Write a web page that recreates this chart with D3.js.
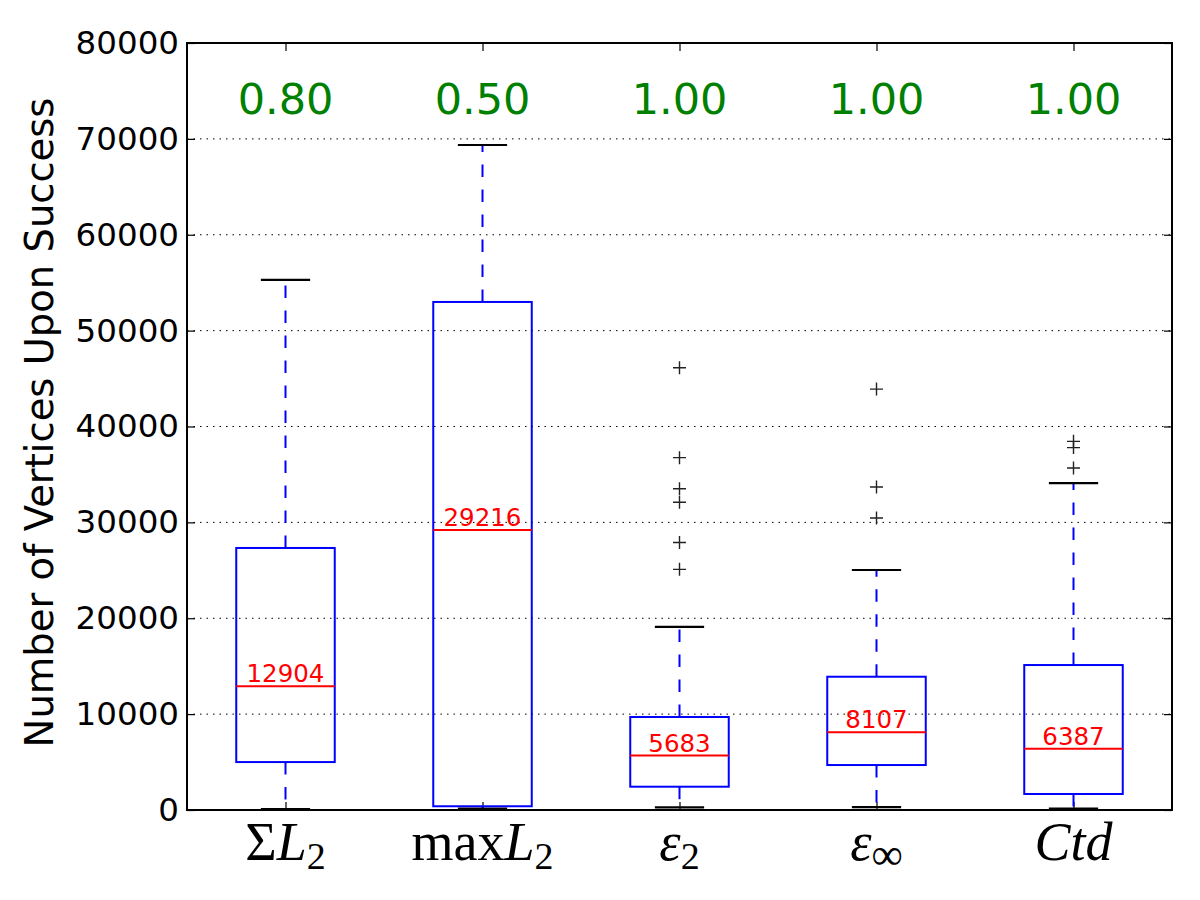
<!DOCTYPE html>
<html>
<head>
<meta charset="utf-8">
<script src="https://cdn.jsdelivr.net/npm/d3@7"></script>
<style>
  html, body { margin: 0; padding: 0; background: #fff; }
  svg { display: block; }
</style>
</head>
<body>
<svg id="chart" width="1200" height="900"></svg>
<script>
// ---- data ----
const categories = ["SumL2", "maxL2", "eps2", "epsInf", "Ctd"];
const successRates = [0.80, 0.50, 1.00, 1.00, 1.00];
const medians = [12904, 29216, 5683, 8107, 6387];
const q1Values = [5000, 390, 2430, 4690, 1670];
const q3Values = [27330, 52990, 9700, 13900, 15120];
const whiskerLow = [100, 150, 280, 310, 140];
const whiskerHigh = [55300, 69360, 19090, 25030, 34100];
const outliers = [
  [],
  [],
  [46130, 36750, 33500, 32100, 27900, 25100],
  [43900, 33690, 30460],
  [38450, 37800, 35670]
];
const yTicks = [0, 10000, 20000, 30000, 40000, 50000, 60000, 70000, 80000];
// tick label pieces: [text, style] ; style: "r" roman, "i" italic, "s" subscript
const xTickLabels = [
  [["Σ", "r"], ["L", "i"], ["2", "s"]],
  [["max", "r"], ["L", "i"], ["2", "s"]],
  [["ε", "i"], ["2", "s"]],
  [["ε", "i"], ["∞", "s"]],
  [["Ctd", "i"]]
];
const yLabel = "Number of Vertices Upon Success";

// ---- layout ----
const svg = d3.select("#chart");
const mLeft = 187, mRight = 1172, mTop = 43, mBottom = 810;

const x = d3.scaleLinear().domain([0.5, categories.length + 0.5]).range([mLeft, mRight]);
const y = d3.scaleLinear().domain([0, 80000]).range([mBottom, mTop]);
const boxHalf = 0.25, capHalf = 0.125;

const data = categories.map((c, i) => ({
  c, i, pos: i + 1,
  med: medians[i], q1: q1Values[i], q3: q3Values[i],
  lo: whiskerLow[i], hi: whiskerHigh[i], fl: outliers[i], rate: successRates[i]
}));

// grid lines
svg.append("g").selectAll("line").data(yTicks.filter(t => t > 0 && t < 80000)).join("line")
  .attr("x1", mLeft).attr("x2", mRight)
  .attr("y1", d => y(d)).attr("y2", d => y(d))
  .attr("stroke", "#000").attr("stroke-width", 1)
  .attr("stroke-dasharray", "1.5,5");

// axes (ticks inward)
const yAxisL = d3.axisLeft(y).tickValues(yTicks).tickSize(-8).tickPadding(8).tickFormat(d3.format("d"));
const gL = svg.append("g").attr("transform", `translate(${mLeft},0)`).call(yAxisL);
gL.select(".domain").remove();
gL.selectAll("text").attr("font-family", "DejaVu Sans").attr("font-size", 32.5).attr("fill", "#000");
gL.selectAll("line").attr("stroke", "#000").attr("stroke-width", 1.2);

const yAxisR = d3.axisRight(y).tickValues(yTicks).tickSize(-8).tickFormat("");
const gR = svg.append("g").attr("transform", `translate(${mRight},0)`).call(yAxisR);
gR.select(".domain").remove();
gR.selectAll("line").attr("stroke", "#000").attr("stroke-width", 1.2);

const xPos = data.map(d => d.pos);
const xAxisB = d3.axisBottom(x).tickValues(xPos).tickSize(-8).tickFormat("");
const gB = svg.append("g").attr("transform", `translate(0,${mBottom})`).call(xAxisB);
gB.select(".domain").remove();
gB.selectAll("line").attr("stroke", "#000").attr("stroke-width", 1.2);
const xAxisT = d3.axisTop(x).tickValues(xPos).tickSize(-8).tickFormat("");
const gT = svg.append("g").attr("transform", `translate(0,${mTop})`).call(xAxisT);
gT.select(".domain").remove();
gT.selectAll("line").attr("stroke", "#000").attr("stroke-width", 1.2);

// boxes
const g = svg.append("g");
const bx = g.selectAll("g.box").data(data).join("g").attr("class", "box");

// whiskers
bx.append("line").attr("x1", d => x(d.pos)).attr("x2", d => x(d.pos))
  .attr("y1", d => y(d.q3)).attr("y2", d => y(d.hi))
  .attr("stroke", "#0000ff").attr("stroke-width", 2).attr("stroke-dasharray", "12.5,12.5");
bx.append("line").attr("x1", d => x(d.pos)).attr("x2", d => x(d.pos))
  .attr("y1", d => y(d.q1)).attr("y2", d => y(d.lo))
  .attr("stroke", "#0000ff").attr("stroke-width", 2).attr("stroke-dasharray", "12.5,12.5");
// caps
bx.append("line").attr("x1", d => x(d.pos - capHalf)).attr("x2", d => x(d.pos + capHalf))
  .attr("y1", d => y(d.hi)).attr("y2", d => y(d.hi))
  .attr("stroke", "#000").attr("stroke-width", 2.2);
bx.append("line").attr("x1", d => x(d.pos - capHalf)).attr("x2", d => x(d.pos + capHalf))
  .attr("y1", d => y(d.lo)).attr("y2", d => y(d.lo))
  .attr("stroke", "#000").attr("stroke-width", 2.2);
// box
bx.append("rect").attr("x", d => x(d.pos - boxHalf)).attr("width", d => x(d.pos + boxHalf) - x(d.pos - boxHalf))
  .attr("y", d => y(d.q3)).attr("height", d => y(d.q1) - y(d.q3))
  .attr("fill", "none").attr("stroke", "#0000ff").attr("stroke-width", 2);
// median
bx.append("line").attr("x1", d => x(d.pos - boxHalf)).attr("x2", d => x(d.pos + boxHalf))
  .attr("y1", d => y(d.med)).attr("y2", d => y(d.med))
  .attr("stroke", "#ff0000").attr("stroke-width", 2);
// median labels
bx.append("text").attr("x", d => x(d.pos)).attr("y", d => y(d.med) - 4)
  .attr("text-anchor", "middle").attr("font-family", "DejaVu Sans").attr("font-size", 24.5)
  .attr("fill", "#ff0000").text(d => d.med);
// outliers
bx.each(function(d) {
  const gg = d3.select(this);
  d.fl.forEach(v => {
    const cx = x(d.pos), cy = y(v);
    gg.append("path").attr("d", `M${cx - 6.5},${cy}H${cx + 6.5}M${cx},${cy - 6.5}V${cy + 6.5}`)
      .attr("stroke", "#222").attr("stroke-width", 1.4).attr("fill", "none");
  });
});
// success rate labels
bx.append("text").attr("x", d => x(d.pos)).attr("y", 114)
  .attr("text-anchor", "middle").attr("font-family", "DejaVu Sans").attr("font-size", 43)
  .attr("fill", "#008000").text(d => d.rate.toFixed(2));

// frame
svg.append("rect").attr("x", mLeft).attr("y", mTop).attr("width", mRight - mLeft).attr("height", mBottom - mTop)
  .attr("fill", "none").attr("stroke", "#000").attr("stroke-width", 2);

// x tick labels
xTickLabels.forEach((parts, i) => {
  const t = svg.append("text").attr("x", x(i + 1)).attr("y", 860)
    .attr("text-anchor", "middle").attr("font-family", "Liberation Serif, DejaVu Serif, serif")
    .attr("font-size", 54).attr("fill", "#000");
  parts.forEach(([txt, st]) => {
    const ts = t.append("tspan").text(txt);
    if (st === "i") ts.attr("font-style", "italic");
    if (st === "s") ts.attr("font-size", txt === "∞" ? 44 : 38).attr("dy", 9);
  });
});

// y label
svg.append("text").attr("transform", `translate(53,${(mTop + mBottom) / 2 - 4}) rotate(-90)`)
  .attr("text-anchor", "middle").attr("font-family", "DejaVu Sans").attr("font-size", 38.5)
  .attr("fill", "#000").text(yLabel);
</script>
</body>
</html>
